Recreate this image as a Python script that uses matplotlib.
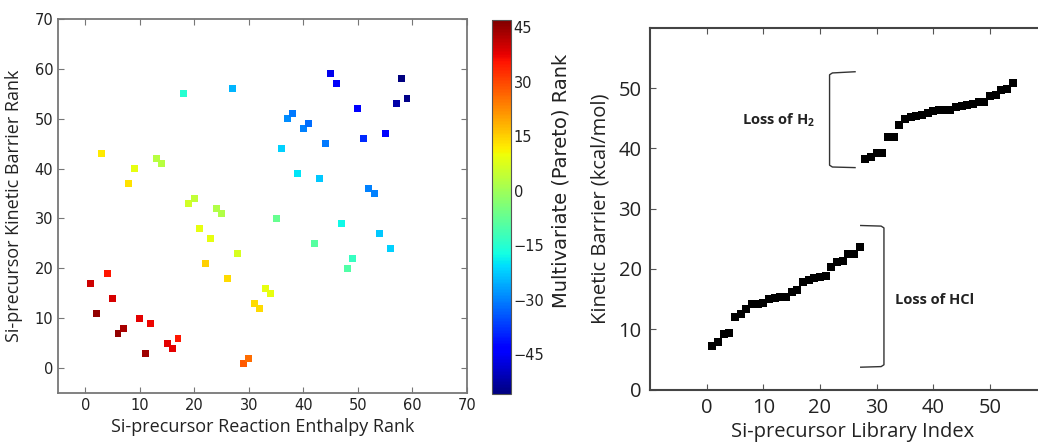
import matplotlib
matplotlib.use("Agg")
import matplotlib.pyplot as plt
import numpy as np

# ---- Left panel data ----
enthalpy_rank = [1, 2, 3, 4, 5, 6, 7, 8, 9, 10, 11, 12, 13, 14, 15, 16, 17, 18, 19, 20,
                 21, 22, 23, 24, 25, 26, 27, 28, 29, 30, 31, 32, 33, 34, 35, 36, 37, 38, 39, 40,
                 41, 42, 43, 44, 45, 46, 47, 48, 49, 50, 51, 52, 53, 54, 55, 56, 57, 58, 59]
barrier_rank = [17, 11, 43, 19, 14, 7, 8, 37, 40, 10, 3, 9, 42, 41, 5, 4, 6, 55, 33, 34,
                28, 21, 26, 32, 31, 18, 56, 23, 1, 2, 13, 12, 16, 15, 30, 44, 50, 51, 39, 48,
                49, 25, 38, 45, 59, 57, 29, 20, 22, 52, 46, 36, 35, 27, 47, 24, 53, 58, 54]
pareto_rank = [40, 45, 12, 35, 39, 45, 43, 13, 9, 38, 44, 37, 3, 3, 38, 38, 35, -15, 6, 4,
               9, 15, 9, 2, 2, 14, -25, 7, 28, 26, 14, 14, 9, 9, -7, -22, -29, -31, -20, -30,
               -32, -9, -23, -31, -46, -45, -18, -10, -13, -44, -39, -30, -30, -23, -44, -22, -52, -56, -55]
cbar_ticks = [-45, -30, -15, 0, 15, 30, 45]

# ---- Right panel data ----
hcl_index = list(range(1, 28))
hcl_barrier = [7.2, 7.9, 9.2, 9.4, 12.1, 12.6, 13.4, 14.1, 14.2, 14.4, 15.0, 15.2, 15.4, 15.4,
               16.1, 16.5, 17.8, 18.2, 18.5, 18.7, 18.9, 20.4, 21.1, 21.3, 22.5, 22.5, 23.7]
h2_index = list(range(28, 55))
h2_barrier = [38.2, 38.5, 39.3, 39.3, 41.8, 41.8, 43.9, 44.9, 45.2, 45.4, 45.6, 45.8, 46.2, 46.3,
              46.3, 46.3, 46.9, 47.0, 47.2, 47.4, 47.6, 47.6, 48.7, 48.8, 49.7, 49.9, 50.8]

plt.rcParams['mathtext.default'] = 'regular'
LBL = ['Open Sans', 'DejaVu Sans']

fig = plt.figure(figsize=(10.38, 4.45), dpi=100)

# Left scatter
ax1 = fig.add_axes([0.0559, 0.1169, 0.394, 0.8404])
sc = ax1.scatter(enthalpy_rank, barrier_rank, c=pareto_rank, cmap='jet', vmin=-56, vmax=47,
                 marker='s', s=25, linewidths=0)
ax1.set_xlim(-5, 70)
ax1.set_ylim(-5, 70)
ax1.set_xticks(range(0, 71, 10))
ax1.set_yticks(range(0, 71, 10))
ax1.tick_params(direction='in', top=True, right=True, length=4, color='#777777',
                labelsize=10.5, labelcolor='#222222')
for sp in ax1.spines.values():
    sp.set_color('#777777')
    sp.set_linewidth(1.3)
ax1.set_xlabel('Si-precursor Reaction Enthalpy Rank', family=LBL, fontsize=13, color='#222222', labelpad=4)
ax1.set_ylabel('Si-precursor Kinetic Barrier Rank', family=LBL, fontsize=13, color='#222222', labelpad=8)

# Colorbar
cax = fig.add_axes([0.474, 0.1146, 0.0183, 0.8404])
cb = fig.colorbar(sc, cax=cax, ticks=cbar_ticks)
cb.ax.tick_params(labelsize=10.5, length=0, pad=2, labelcolor='#222222')
cb.outline.set_linewidth(0.8)
cb.outline.set_edgecolor('#555555')
cb.ax.set_ylabel('Multivariate (Pareto) Rank', fontsize=14, color='#222222', labelpad=5, y=0.57)

# Right panel
ax2 = fig.add_axes([0.6262, 0.1247, 0.3902, 0.813])
ax2.plot(hcl_index, hcl_barrier, 's', color='black', markersize=5.8, markeredgewidth=0)
ax2.plot(h2_index, h2_barrier, 's', color='black', markersize=5.8, markeredgewidth=0)
ax2.set_xlim(-10, 61.5)
ax2.set_ylim(0, 60)
ax2.set_xticks(range(0, 51, 10))
ax2.set_yticks(range(0, 51, 10))
ax2.tick_params(direction='in', top=True, right=True, length=4, color='#555555',
                labelsize=14.5, labelcolor='#222222', pad=6)
for lab in ax2.get_xticklabels() + ax2.get_yticklabels():
    lab.set_family(LBL)
for sp in ax2.spines.values():
    sp.set_color('#444444')
    sp.set_linewidth(1.5)
ax2.set_xlabel('Si-precursor Library Index', family=LBL, fontsize=14.5, color='#222222', labelpad=3)
ax2.set_ylabel('Kinetic Barrier (kcal/mol)', family=LBL, fontsize=14.5, color='#222222', labelpad=6)

# Brackets
ax2.plot([26.2, 22.2, 21.7, 21.7, 22.2, 26.2], [52.7, 52.5, 52.2, 37.2, 36.9, 36.8],
         color='#333333', lw=1.0)
ax2.plot([27.2, 30.8, 31.3, 31.3, 30.8, 27.2], [27.2, 27.1, 26.8, 4.1, 3.8, 3.7],
         color='#333333', lw=1.0)
ax2.text(12.6, 44.7, 'Loss of H$_2$', family=LBL, fontsize=10.5, fontweight='bold',
         ha='center', va='center', color='#222222')
ax2.text(33.3, 14.8, 'Loss of HCl', family=LBL, fontsize=10.5, fontweight='bold',
         ha='left', va='center', color='#222222')

fig.savefig('out.png', dpi=100)
